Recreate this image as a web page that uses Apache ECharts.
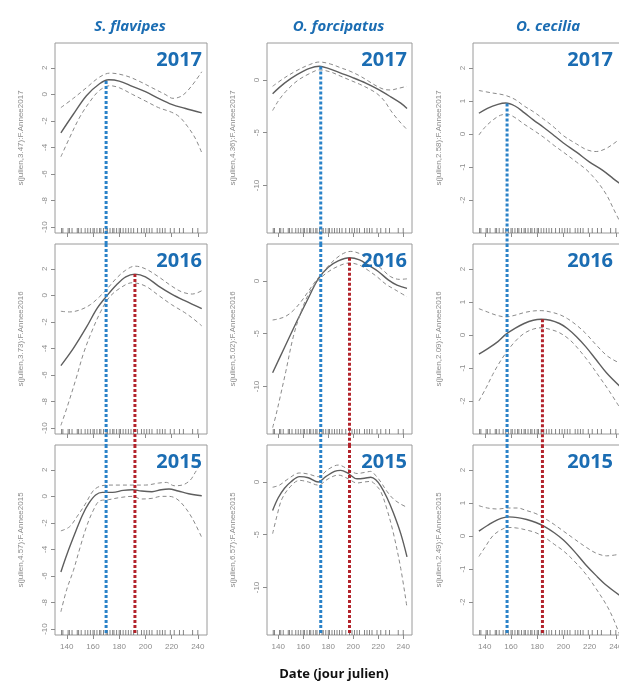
<!DOCTYPE html>
<html><head><meta charset="utf-8">
<script src="https://cdn.jsdelivr.net/npm/echarts@6/dist/echarts.min.js"></script>
<style>html,body{margin:0;padding:0;background:#fff}#c{width:619px;height:682px}</style>
</head><body><div id="c"></div><script>
// ---------- DATA ----------
const species = ['S. flavipes', 'O. forcipatus', 'O. cecilia'];
const years = ['2017', '2016', '2015'];
const xTicks = [140, 160, 180, 200, 220, 240];
const yTicksFlavipes = [-10, -8, -6, -4, -2, 0, 2];
const yTicksForcipatus = [-10, -5, 0];
const yTicksCecilia = [-2, -1, 0, 1, 2];
const edfFlavipes = ['3.47', '3.73', '4.57'];
const edfForcipatus = ['4.36', '5.02', '6.57'];
const edfCecilia = ['2.58', '2.09', '2.49'];
const blueDay = [170, 174, 157];   // peak date 2017
const redDay = [192, 197, 184];    // peak date 2016
const rugDays = [136, 137, 141, 142, 144, 148, 149, 151, 154, 156, 158, 160, 161, 163, 165, 166, 168, 170, 171, 173, 175, 176, 178, 180, 181, 183, 185, 187, 189, 191, 194, 197, 199, 201, 203, 205, 209, 211, 213, 215, 219, 222, 226, 229, 236, 240];

// S. flavipes
const flavipes2017Fit = [[135.5,-2.9],[145,-1.5],[155,-0.1],[165,0.8],[172,1.1],[180,1.0],[190,0.6],[200,0.2],[210,-0.3],[220,-0.75],[230,-1.05],[243,-1.4]];
const flavipes2017Up = [[135.5,-1.0],[145,-0.3],[155,0.5],[165,1.3],[173,1.6],[185,1.4],[195,1.0],[205,0.5],[215,0.0],[221,-0.3],[228,-0.1],[235,0.6],[243,1.7]];
const flavipes2017Lo = [[135.5,-4.7],[142,-3.3],[150,-1.7],[158,-0.5],[165,0.3],[173,0.65],[180,0.5],[190,0.0],[200,-0.5],[210,-1.0],[220,-1.35],[226,-1.7],[232,-2.4],[238,-3.3],[243,-4.4]];
const flavipes2016Fit = [[135.5,-5.3],[145,-4.0],[155,-2.4],[163,-1.0],[170,-0.1],[178,0.8],[185,1.4],[192,1.6],[200,1.4],[210,0.7],[220,0.1],[230,-0.4],[243,-1.0]];
const flavipes2016Up = [[135.5,-1.2],[142,-1.25],[150,-1.1],[158,-0.7],[165,-0.1],[170,0.4],[178,1.3],[185,1.9],[192,2.2],[200,2.0],[210,1.4],[220,0.7],[228,0.25],[236,0.1],[243,0.35]];
const flavipes2016Lo = [[135.5,-9.8],[140,-8.5],[147,-6.3],[153,-4.3],[160,-2.5],[166,-1.2],[172,-0.2],[180,0.5],[190,0.95],[200,0.7],[210,0.0],[220,-0.7],[230,-1.3],[237,-1.8],[243,-2.3]];
const flavipes2015Fit = [[135.5,-5.7],[140,-4.4],[147,-2.6],[152,-1.4],[157,-0.5],[162,0.1],[167,0.3],[175,0.3],[183,0.45],[190,0.5],[197,0.4],[205,0.35],[212,0.5],[218,0.55],[225,0.4],[233,0.2],[243,0.05]];
const flavipes2015Up = [[135.5,-2.6],[142,-2.3],[148,-1.5],[154,-0.6],[160,0.4],[165,0.75],[172,0.85],[180,0.85],[190,0.85],[200,0.85],[210,1.0],[216,1.05],[222,0.8],[228,0.85],[234,1.2],[238,1.8],[243,2.6]];
const flavipes2015Lo = [[135.5,-8.7],[140,-7.0],[145,-5.6],[150,-3.9],[155,-2.3],[160,-1.1],[165,-0.35],[172,-0.25],[180,-0.1],[190,0.0],[197,-0.2],[205,-0.15],[212,0.0],[218,0.0],[224,-0.2],[230,-0.8],[236,-1.7],[243,-3.1]];

// O. forcipatus
const forcipatus2017Fit = [[135.5,-1.3],[145,-0.3],[155,0.5],[165,1.1],[173,1.3],[180,1.1],[190,0.65],[200,0.2],[210,-0.3],[220,-0.9],[230,-1.6],[238,-2.2],[243,-2.7]];
const forcipatus2017Up = [[135.5,-0.6],[145,0.2],[155,0.9],[165,1.45],[173,1.7],[182,1.5],[190,1.15],[197,0.85],[205,0.4],[212,-0.1],[219,-0.6],[225,-0.9],[230,-0.95],[236,-0.8],[243,-0.6]];
const forcipatus2017Lo = [[135.5,-2.9],[140,-2.0],[146,-1.1],[155,-0.1],[165,0.6],[173,0.95],[182,0.75],[190,0.35],[197,0.0],[205,-0.4],[212,-0.8],[219,-1.3],[225,-2.0],[230,-2.9],[236,-3.8],[243,-4.7]];
const forcipatus2016Fit = [[135.5,-8.7],[145,-6.3],[155,-3.8],[165,-1.4],[172,0.2],[180,1.3],[188,1.9],[197,2.2],[205,2.0],[212,1.5],[220,0.9],[228,0.1],[235,-0.4],[243,-0.7]];
const forcipatus2016Up = [[135.5,-3.7],[140,-3.6],[146,-3.35],[152,-2.8],[158,-2.0],[164,-1.0],[170,0.0],[177,1.0],[185,2.0],[192,2.6],[198,2.8],[205,2.6],[212,2.1],[218,1.6],[224,1.0],[230,0.4],[237,0.15],[243,0.2]];
const forcipatus2016Lo = [[135.5,-13.9],[138,-12.8],[141.5,-11.0],[146,-8.6],[152,-5.3],[158,-3.0],[164,-1.3],[170,-0.2],[178,0.7],[188,1.4],[197,1.7],[205,1.5],[212,1.0],[219,0.4],[226,-0.3],[233,-0.8],[243,-1.5]];
const forcipatus2015Fit = [[135.5,-2.7],[140,-1.5],[145,-0.6],[150,0.0],[157,0.5],[164,0.4],[172,0.0],[178,0.5],[185,1.0],[190,1.1],[196,0.8],[203,0.3],[209,0.35],[214,0.45],[218,0.2],[222,-0.4],[227,-1.5],[232,-2.9],[238,-4.9],[243,-7.1]];
const forcipatus2015Up = [[135.5,-0.5],[141,-0.3],[148,0.3],[157,0.85],[164,0.75],[172,0.5],[180,1.2],[188,1.6],[196,1.2],[203,0.8],[209,0.9],[214,1.0],[218,0.6],[222,0.0],[227,-0.9],[232,-1.6],[238,-2.1],[243,-2.4]];
const forcipatus2015Lo = [[135.5,-4.9],[139,-3.2],[143,-1.6],[150,-0.4],[157,0.15],[164,0.0],[172,-0.3],[180,0.3],[188,0.65],[196,0.3],[203,-0.1],[209,0.0],[214,0.05],[218,-0.3],[222,-0.9],[227,-2.6],[232,-4.8],[238,-8.2],[243,-11.9]];

// O. cecilia
const cecilia2017Fit = [[135.5,0.63],[142,0.78],[150,0.9],[156,0.94],[163,0.85],[170,0.65],[177,0.43],[185,0.2],[193,-0.05],[200,-0.27],[210,-0.55],[220,-0.85],[230,-1.1],[238,-1.35],[243,-1.5]];
const cecilia2017Up = [[135.5,1.32],[145,1.25],[155,1.18],[163,1.05],[170,0.85],[177,0.68],[185,0.45],[193,0.2],[200,-0.05],[210,-0.3],[218,-0.48],[225,-0.53],[232,-0.45],[238,-0.3],[243,-0.15]];
const cecilia2017Lo = [[135.5,-0.03],[140,0.2],[146,0.42],[152,0.57],[157,0.6],[163,0.5],[170,0.3],[177,0.12],[185,-0.1],[193,-0.35],[200,-0.55],[210,-0.85],[218,-1.1],[226,-1.45],[233,-1.85],[238,-2.25],[243,-2.65]];
const cecilia2016Fit = [[135.5,-0.58],[142,-0.42],[150,-0.2],[156,0.02],[163,0.2],[170,0.35],[177,0.45],[183,0.48],[190,0.45],[197,0.35],[203,0.2],[210,-0.05],[217,-0.35],[225,-0.75],[233,-1.15],[243,-1.55]];
const cecilia2016Up = [[135.5,0.8],[142,0.7],[149,0.6],[156,0.55],[163,0.6],[170,0.68],[177,0.73],[183,0.74],[190,0.7],[197,0.62],[203,0.5],[210,0.3],[217,0.05],[225,-0.3],[233,-0.62],[238,-0.75],[243,-0.85]];
const cecilia2016Lo = [[135.5,-2.0],[141,-1.6],[146,-1.2],[151,-0.85],[156,-0.55],[163,-0.2],[170,0.05],[177,0.18],[183,0.22],[190,0.17],[197,0.07],[205,-0.15],[212,-0.45],[220,-0.85],[228,-1.3],[235,-1.7],[243,-2.2]];
const cecilia2015Fit = [[135.5,0.15],[142,0.32],[150,0.5],[158,0.58],[165,0.56],[172,0.5],[179,0.41],[186,0.28],[193,0.1],[200,-0.12],[208,-0.45],[217,-0.87],[225,-1.2],[233,-1.5],[243,-1.8]];
const cecilia2015Up = [[135.5,0.92],[142,0.85],[150,0.82],[158,0.85],[165,0.85],[172,0.77],[179,0.68],[186,0.53],[193,0.35],[200,0.15],[208,-0.08],[217,-0.33],[225,-0.52],[233,-0.6],[243,-0.55]];
const cecilia2015Lo = [[135.5,-0.62],[140,-0.35],[146,0.0],[152,0.18],[158,0.26],[165,0.24],[172,0.18],[179,0.1],[186,-0.05],[193,-0.25],[200,-0.45],[208,-0.75],[217,-1.15],[225,-1.6],[233,-2.1],[238,-2.5],[243,-3.0]];

// ---------- LAYOUT / STYLE ----------
const X_MIN = 131, X_MAX = 247;
const colLayout = [{left: 55, width: 152}, {left: 267, width: 145}, {left: 473, width: 152}];
const rowTops = [43, 244, 445];
const PANEL_H = 190, GAP = 11;
const yRanges = [[-10.45, 3.87], [-14.5, 3.5], [-3, 2.76]];
const yTicks = [yTicksFlavipes, yTicksForcipatus, yTicksCecilia];
const edfs = [edfFlavipes, edfForcipatus, edfCecilia];
const panels = [
  [[flavipes2017Fit, flavipes2017Up, flavipes2017Lo], [flavipes2016Fit, flavipes2016Up, flavipes2016Lo], [flavipes2015Fit, flavipes2015Up, flavipes2015Lo]],
  [[forcipatus2017Fit, forcipatus2017Up, forcipatus2017Lo], [forcipatus2016Fit, forcipatus2016Up, forcipatus2016Lo], [forcipatus2015Fit, forcipatus2015Up, forcipatus2015Lo]],
  [[cecilia2017Fit, cecilia2017Up, cecilia2017Lo], [cecilia2016Fit, cecilia2016Up, cecilia2016Lo], [cecilia2015Fit, cecilia2015Up, cecilia2015Lo]]
];
const BLUE_TXT = '#1b6db3';
const BLUE_LINE = '#2a82c8';
const RED_LINE = '#b3242c';
const AX = '#8c8c8c';
const AXFONT = 'Liberation Sans';

function interp(arr, x) {
  for (let i = 0; i < arr.length - 1; i++) {
    if (x >= arr[i][0] && x <= arr[i + 1][0]) {
      const t = (x - arr[i][0]) / (arr[i + 1][0] - arr[i][0]);
      return arr[i][1] + t * (arr[i + 1][1] - arr[i][1]);
    }
  }
  return arr[arr.length - 1][1];
}

const grids = [], xAxes = [], yAxes = [], series = [], graphics = [];
for (let c = 0; c < 3; c++) {
  const [ymin, ymax] = yRanges[c];
  const gapUnits = (ymax - ymin) / PANEL_H * GAP;
  for (let r = 0; r < 3; r++) {
    const gi = grids.length;
    grids.push({left: colLayout[c].left, top: rowTops[r], width: colLayout[c].width, height: PANEL_H,
      show: true, borderColor: '#9a9a9a', borderWidth: 1, backgroundColor: 'rgba(0,0,0,0)', outerBoundsMode: 'none'});
    xAxes.push({gridIndex: gi, type: 'value', min: X_MIN, max: X_MAX, position: 'bottom',
      axisLine: {show: false, onZero: false}, splitLine: {show: false},
      axisTick: {show: true, length: 4, lineStyle: {color: AX}, customValues: xTicks},
      axisLabel: {show: r === 2, customValues: xTicks, fontSize: 8, color: AX, margin: 8, fontFamily: AXFONT}});
    yAxes.push({gridIndex: gi, type: 'value', min: ymin, max: ymax, position: 'left',
      name: 's(julien,' + edfs[c][r] + '):F.Annee' + years[r], nameLocation: 'middle', nameGap: 30,
      nameTextStyle: {fontSize: 8, color: AX, fontFamily: AXFONT},
      axisLine: {show: false, onZero: false}, splitLine: {show: false},
      axisTick: {show: true, length: 4, lineStyle: {color: AX}, customValues: yTicks[c]},
      axisLabel: {rotate: 90, customValues: yTicks[c], fontSize: 8, color: AX, margin: 6, fontFamily: AXFONT}});
    const [fit, up, lo] = panels[c][r];
    series.push({type: 'line', xAxisIndex: gi, yAxisIndex: gi, data: fit, smooth: 0.35, showSymbol: false, silent: true,
      lineStyle: {color: '#5e5e5e', width: 1.4}, z: 3});
    series.push({type: 'line', xAxisIndex: gi, yAxisIndex: gi, data: up, smooth: 0.35, showSymbol: false, silent: true,
      lineStyle: {color: '#8a8a8a', width: 1, type: [4, 3]}, z: 3});
    series.push({type: 'line', xAxisIndex: gi, yAxisIndex: gi, data: lo, smooth: 0.35, showSymbol: false, silent: true,
      lineStyle: {color: '#8a8a8a', width: 1, type: [4, 3]}, z: 3});
    series.push({type: 'scatter', xAxisIndex: gi, yAxisIndex: gi, data: rugDays.map(d => [d, ymin]),
      symbol: 'rect', symbolSize: [1, 5], symbolOffset: [0, -2.5], itemStyle: {color: '#666'}, silent: true, z: 2});
    // blue vertical (2017 peak) in all rows, red vertical (2016 peak) rows 2-3
    const blueTop = r === 0 ? interp(panels[c][0][0], blueDay[c]) : ymax;
    const blueBot = r === 2 ? ymin : ymin - gapUnits;
    series.push({type: 'line', xAxisIndex: gi, yAxisIndex: gi, data: [[blueDay[c], blueTop], [blueDay[c], blueBot]],
      showSymbol: false, clip: false, silent: true, z: 10,
      lineStyle: {color: BLUE_LINE, width: 3, type: [3, 2]}});
    if (r >= 1) {
      const redTop = r === 1 ? interp(panels[c][1][0], redDay[c]) : ymax;
      const redBot = r === 2 ? ymin : ymin - gapUnits;
      series.push({type: 'line', xAxisIndex: gi, yAxisIndex: gi, data: [[redDay[c], redTop], [redDay[c], redBot]],
        showSymbol: false, clip: false, silent: true, z: 10,
        lineStyle: {color: RED_LINE, width: 3, type: [3, 2]}});
    }
    // year label
    const rightEdge = Math.min(colLayout[c].left + colLayout[c].width - 5, 613);
    graphics.push({type: 'text', x: rightEdge, y: rowTops[r] + 7, z: 20,
      style: {text: years[r], fill: BLUE_TXT, font: 'bold 20px "Open Sans"', textAlign: 'right', textVerticalAlign: 'top'}});
  }
  graphics.push({type: 'text', x: colLayout[c].left + colLayout[c].width / 2 - 1, y: 27, z: 20,
    style: {text: species[c], fill: BLUE_TXT, font: 'italic bold 15px "Open Sans"', textAlign: 'center', textVerticalAlign: 'middle'}});
}
graphics.push({type: 'text', x: 334, y: 674, z: 20,
  style: {text: 'Date (jour julien)', fill: '#111', font: 'bold 13px "Open Sans"', textAlign: 'center', textVerticalAlign: 'middle'}});

const chart = echarts.init(document.getElementById('c'), null, {renderer: 'canvas'});
chart.setOption({
  animation: false,
  backgroundColor: '#fff',
  grid: grids, xAxis: xAxes, yAxis: yAxes, series: series, graphic: graphics
});
</script></body></html>
